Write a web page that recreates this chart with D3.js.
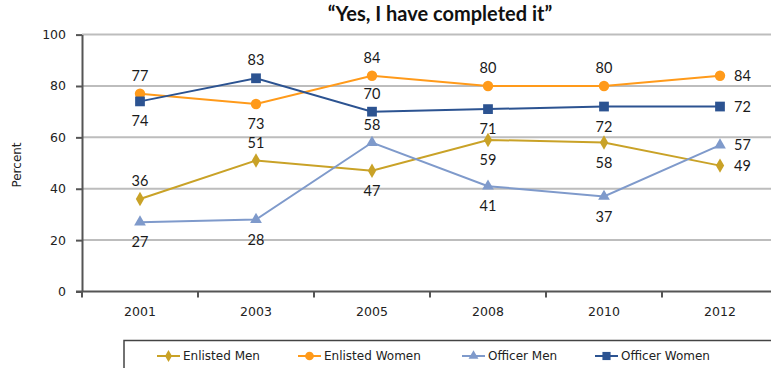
<!DOCTYPE html>
<html>
<head>
<meta charset="utf-8">
<script src="https://cdn.jsdelivr.net/npm/d3@7"></script>
<style>
  html, body { margin: 0; padding: 0; background: #fff; overflow: hidden; }
  svg { display: block; }
</style>
</head>
<body>
<div id="chart"></div>
<script>
const years = ['2001', '2003', '2005', '2008', '2010', '2012'];
const enlistedMen = [36, 51, 47, 59, 58, 49];
const enlistedWomen = [77, 73, 84, 80, 80, 84];
const officerMen = [27, 28, 58, 41, 37, 57];
const officerWomen = [74, 83, 70, 71, 72, 72];
const yTicks = [0, 20, 40, 60, 80, 100];

// where each data label sits relative to its point
const series = [
  { name: 'Enlisted Men', values: enlistedMen, color: '#c9a227', symbol: d3.symbolDiamond, size: 60,
    labels: ['above', 'above', 'below', 'below', 'below', 'right'] },
  { name: 'Enlisted Women', values: enlistedWomen, color: '#ff9a1a', symbol: d3.symbolCircle, size: 85,
    labels: ['above', 'below', 'above', 'above', 'above', 'right'] },
  { name: 'Officer Men', values: officerMen, color: '#7f9acb', symbol: d3.symbolTriangle, size: 60,
    labels: ['below', 'below', 'above', 'below', 'below', 'right'] },
  { name: 'Officer Women', values: officerWomen, color: '#2c5391', symbol: d3.symbolSquare, size: 95,
    labels: ['below', 'above', 'above', 'below', 'below', 'right'] }
];

const W = 771, H = 368;
const svg = d3.select('#chart').append('svg').attr('width', W).attr('height', H);

const x = d3.scaleBand().domain(years).range([82, 778]);
const y = d3.scaleLinear().domain([0, 100]).range([291.5, 34.6]);
const cx = d => x(d) + x.bandwidth() / 2;

// gridlines
svg.append('g')
  .selectAll('line').data(yTicks.slice(1)).enter().append('line')
  .attr('x1', 82).attr('x2', W + 10)
  .attr('y1', d => y(d)).attr('y2', d => y(d))
  .attr('stroke', '#bdbdbd').attr('stroke-width', 2);

// y axis
svg.append('g')
  .attr('transform', 'translate(82,0)')
  .call(d3.axisLeft(y).tickValues(yTicks).tickSize(6).tickPadding(10).tickSizeOuter(0))
  .call(g => g.select('.domain').attr('stroke', '#555').attr('stroke-width', 2))
  .call(g => g.selectAll('.tick line').attr('stroke', '#555').attr('stroke-width', 2))
  .call(g => g.selectAll('.tick text').attr('fill', '#222')
    .style('font-family', 'DejaVu Sans').style('font-size', '12.5px'));

// x axis
const xAxis = svg.append('g').attr('transform', `translate(0,${y(0)})`);
xAxis.append('line').attr('x1', 76).attr('x2', W + 10).attr('stroke', '#555').attr('stroke-width', 2);
xAxis.selectAll('.tk').data(years).enter().append('line')
  .attr('x1', d => x(d)).attr('x2', d => x(d)).attr('y1', 0).attr('y2', 6)
  .attr('stroke', '#555').attr('stroke-width', 2);
xAxis.selectAll('text').data(years).enter().append('text')
  .attr('x', d => cx(d)).attr('y', 24)
  .attr('text-anchor', 'middle')
  .attr('fill', '#222')
  .style('font-family', 'DejaVu Sans').style('font-size', '12.5px')
  .text(d => d);

// axis title
svg.append('text')
  .attr('transform', 'translate(21,165) rotate(-90)')
  .attr('text-anchor', 'middle')
  .attr('fill', '#222')
  .style('font-family', 'DejaVu Sans').style('font-size', '12px')
  .text('Percent');

// chart title
svg.append('text')
  .attr('x', 440).attr('y', 21)
  .attr('text-anchor', 'middle')
  .attr('fill', '#111')
  .style('font-family', 'Lato').style('font-weight', 'bold').style('font-size', '20px')
  .text('\u201CYes, I have completed it\u201D');

const line = d3.line().x((d, i) => cx(years[i])).y(d => y(d));

series.forEach(s => {
  svg.append('path').datum(s.values)
    .attr('fill', 'none').attr('stroke', s.color).attr('stroke-width', 2)
    .attr('d', line);
});

series.forEach(s => {
  svg.append('g').selectAll('path').data(s.values).enter().append('path')
    .attr('transform', (d, i) => `translate(${cx(years[i])},${y(d)})`)
    .attr('d', d3.symbol().type(s.symbol).size(s.size))
    .attr('fill', s.color);
});

series.forEach(s => {
  svg.append('g').selectAll('text').data(s.values).enter().append('text')
    .attr('x', (d, i) => s.labels[i] === 'right' ? cx(years[i]) + 14 : cx(years[i]))
    .attr('y', (d, i) => s.labels[i] === 'above' ? y(d) - 18 : s.labels[i] === 'below' ? y(d) + 20 : y(d))
    .attr('dy', '0.35em')
    .attr('text-anchor', (d, i) => s.labels[i] === 'right' ? 'start' : 'middle')
    .attr('fill', '#1a1a1a')
    .style('font-family', 'Lato').style('font-size', '14.5px')
    .text(d => d);
});

// legend
const legend = svg.append('g');
legend.append('rect')
  .attr('x', 124).attr('y', 340.5).attr('width', 700).attr('height', 40)
  .attr('fill', '#fff').attr('stroke', '#444').attr('stroke-width', 1.5);
const legendX = [157, 298, 462, 595];
series.forEach((s, i) => {
  const g = legend.append('g').attr('transform', `translate(${legendX[i]},356)`);
  g.append('line').attr('x1', 0).attr('x2', 23).attr('stroke', s.color).attr('stroke-width', 2);
  g.append('path').attr('transform', 'translate(11.5,0)')
    .attr('d', d3.symbol().type(s.symbol).size(s.size * 0.7)).attr('fill', s.color);
  g.append('text').attr('x', 26).attr('dy', '0.35em')
    .attr('fill', '#222')
    .style('font-family', 'DejaVu Sans').style('font-size', '12px')
    .text(s.name);
});
</script>
</body>
</html>
